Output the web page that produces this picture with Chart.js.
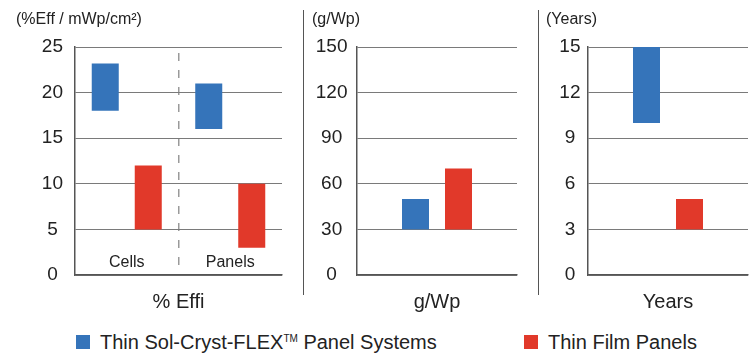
<!DOCTYPE html>
<html>
<head>
<meta charset="utf-8">
<script src="https://cdn.jsdelivr.net/npm/chart.js@4.4.0/dist/chart.umd.min.js"></script>
<style>
body { margin: 0; background: #fff; font-family: "Liberation Sans", Arial, sans-serif; color: #222; }
#wrap { position: relative; width: 753px; height: 353px; overflow: hidden; }
canvas { position: absolute; top: 0; }
.unit { position: absolute; top: 9px; font-size: 16px; line-height: 20px; white-space: nowrap; }
.sep { position: absolute; top: 10px; width: 1px; height: 285px; background: #555; }
.leg { position: absolute; top: 332px; font-size: 20px; line-height: 20px; white-space: nowrap; }
.leg sup { font-size: 10px; vertical-align: 7px; line-height: 0; }
.sw { position: absolute; top: 335px; width: 14px; height: 14px; }
</style>
</head>
<body>
<div id="wrap">
  <canvas id="c1" width="290" height="320" style="left:0px"></canvas>
  <canvas id="c2" width="234" height="320" style="left:304px"></canvas>
  <canvas id="c3" width="214" height="320" style="left:539px"></canvas>
  <div class="sep" style="left:303px"></div>
  <div class="sep" style="left:538px"></div>
  <div class="unit" id="u1" style="left:16px"></div>
  <div class="unit" id="u2" style="left:312px"></div>
  <div class="unit" id="u3" style="left:546px"></div>
  <div class="sw" id="sw1" style="left:76px"></div>
  <div class="leg" id="leg1" style="left:100px"></div>
  <div class="sw" id="sw2" style="left:524px"></div>
  <div class="leg" id="leg2" style="left:548px"></div>
</div>
<script>
// series
const seriesNames = ['Thin Sol-Cryst-FLEX<sup>TM</sup> Panel Systems', 'Thin Film Panels'];
const seriesColors = ['#3574ba', '#e1392a'];

// efficiency panel (floating bars: [low, high])
const effCategories = ['Cells', 'Panels'];
const effFlex = [[18, 23.2], [16, 21]];
const effFilm = [[5, 12], [3, 10]];
const effTicks = [0, 5, 10, 15, 20, 25];

// weight panel
const weightCategories = ['g/Wp'];
const weightFlex = [[30, 50]];
const weightFilm = [[30, 70]];
const weightTicks = [0, 30, 60, 90, 120, 150];

// lifetime panel
const yearCategories = ['Years'];
const yearFlex = [[10, 15]];
const yearFilm = [[3, 5]];
const yearTicks = [0, 3, 6, 9, 12, 15];

const units = ['(%Eff / mWp/cm²)', '(g/Wp)', '(Years)'];
const axisTitles = ['% Effi', 'g/Wp', 'Years'];

Chart.defaults.font.family = '"Liberation Sans", Arial, sans-serif';
Chart.defaults.color = '#222';

// labels "Cells" / "Panels" sit inside the plot, near the bottom
const insideLabels = {
  id: 'insideLabels',
  afterDatasetsDraw(chart) {
    const ctx = chart.ctx;
    const x = chart.scales.x;
    ctx.save();
    ctx.font = '16px "Liberation Sans", Arial, sans-serif';
    ctx.fillStyle = '#222';
    ctx.textAlign = 'center';
    ctx.textBaseline = 'middle';
    chart.data.labels.forEach((lab, i) => {
      ctx.fillText(lab, x.getPixelForValue(i), chart.chartArea.bottom - 12);
    });
    ctx.restore();
  }
};

function buildChart(id, cats, flex, film, ticks, title, look) {
  return new Chart(document.getElementById(id), {
    type: 'bar',
    data: {
      labels: cats,
      datasets: [
        { label: 'flex', data: flex, backgroundColor: seriesColors[0],
          categoryPercentage: look.catPct, barPercentage: look.barPct },
        { label: 'film', data: film, backgroundColor: seriesColors[1],
          categoryPercentage: look.catPct, barPercentage: look.barPct }
      ]
    },
    options: {
      responsive: false,
      animation: false,
      layout: { padding: { top: 47, right: look.right, left: 0, bottom: 0 } },
      plugins: { legend: { display: false }, tooltip: { enabled: false } },
      scales: {
        x: {
          grid: {
            display: look.divider,
            drawTicks: false,
            lineWidth: 1.5,
            color: c => c.index === 1 ? '#9a9a9a' : 'rgba(0,0,0,0)'
          },
          border: { color: '#555', width: 1.5, dash: [8, 9], dashOffset: 11 },
          ticks: { display: false },
          title: { display: true, text: title, font: { size: 20 }, color: '#222',
                   padding: { top: 0, bottom: 6 } },
          afterFit: s => { s.height = 45; }
        },
        y: {
          min: ticks[0],
          max: ticks[ticks.length - 1],
          afterBuildTicks: s => { s.ticks = ticks.map(v => ({ value: v })); },
          grid: { color: '#7a7a7a', lineWidth: 1, drawTicks: false },
          border: { color: '#555', width: 1.5 },
          ticks: { padding: look.tickPad, crossAlign: 'center', font: { size: 19 }, color: '#222' },
          afterFit: s => { s.width = look.axisW; }
        }
      }
    },
    plugins: look.divider ? [insideLabels] : []
  });
}

buildChart('c1', effCategories, effFlex, effFilm, effTicks, axisTitles[0],
  { axisW: 75, right: 8, tickPad: 12, catPct: 0.831, barPct: 0.628, divider: true });
buildChart('c2', weightCategories, weightFlex, weightFilm, weightTicks, axisTitles[1],
  { axisW: 53, right: 21, tickPad: 9.5, catPct: 0.5375, barPct: 0.628, divider: false });
buildChart('c3', yearCategories, yearFlex, yearFilm, yearTicks, axisTitles[2],
  { axisW: 49, right: 5, tickPad: 7.5, catPct: 0.5375, barPct: 0.628, divider: false });

document.getElementById('u1').textContent = units[0];
document.getElementById('u2').textContent = units[1];
document.getElementById('u3').textContent = units[2];

document.getElementById('sw1').style.background = seriesColors[0];
document.getElementById('sw2').style.background = seriesColors[1];
document.getElementById('leg1').innerHTML = seriesNames[0];
document.getElementById('leg2').innerHTML = seriesNames[1];
</script>
</body>
</html>
